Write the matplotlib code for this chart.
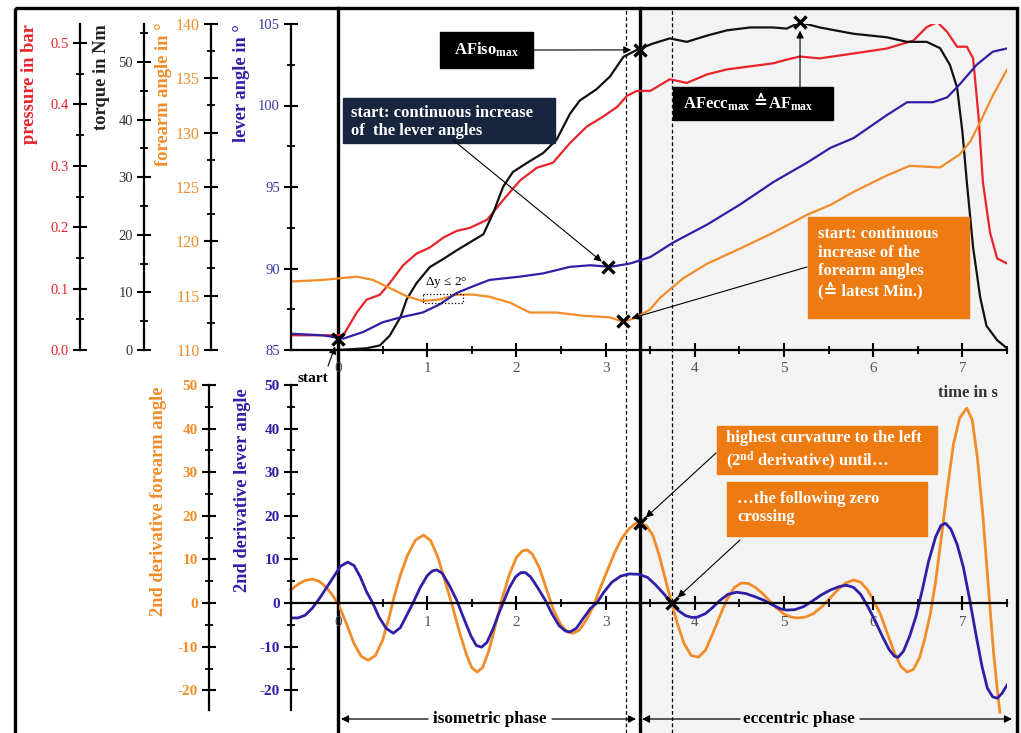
import matplotlib
matplotlib.use('Agg')
import matplotlib.pyplot as plt
import matplotlib.transforms as mtransforms
from matplotlib.lines import Line2D
from matplotlib.patches import Rectangle
from matplotlib.ticker import MultipleLocator, FixedLocator

plt.rcParams['font.family'] = ['Liberation Serif', 'DejaVu Serif', 'DejaVu Sans']
plt.rcParams['mathtext.fontset'] = 'custom'
plt.rcParams['mathtext.rm'] = 'Liberation Serif'
plt.rcParams['mathtext.bf'] = 'Liberation Serif:bold'
plt.rcParams['mathtext.it'] = 'Liberation Serif:italic'
plt.rcParams['axes.unicode_minus'] = False

# ---- data ----
t_torque = [0, 0.32, 0.47, 0.58, 0.7, 0.77, 0.88, 1.03, 1.18, 1.33, 1.48, 1.63, 1.74, 1.85,
            1.96, 2.12, 2.3, 2.45, 2.6, 2.71, 2.9, 3.05, 3.2, 3.35, 3.53, 3.72, 3.91, 4.14,
            4.36, 4.62, 4.88, 5.03, 5.18, 5.4, 5.78, 6.15, 6.38, 6.6, 6.75, 6.86, 6.94, 7.0,
            7.05, 7.12, 7.2, 7.27, 7.39, 7.5]
torque = [0, 0.3, 0.8, 2.5, 5.7, 8.8, 11.6, 14.4, 15.8, 17.3, 18.7, 20.1, 23.8, 28.3,
          30.9, 32.5, 34.2, 36.5, 41.0, 43.3, 45.3, 47.5, 50.9, 52.1, 53.2, 54.1, 53.5, 54.6,
          55.5, 56.0, 56.0, 55.8, 56.9, 56.0, 54.9, 54.3, 53.5, 53.5, 52.4, 49.5, 45.6, 37.9,
          29.1, 17.8, 9.1, 4.2, 1.7, 0.3]

t_pressure = [-0.53, -0.17, 0.06, 0.21, 0.32, 0.47, 0.58, 0.73, 0.88, 1.03, 1.18, 1.33, 1.48,
              1.67, 1.85, 2.04, 2.23, 2.41, 2.6, 2.79, 2.97, 3.13, 3.24, 3.35, 3.5, 3.72, 3.91,
              4.14, 4.36, 4.62, 4.88, 5.03, 5.18, 5.4, 5.78, 6.15, 6.45, 6.6, 6.72, 6.83,
              6.94, 7.05, 7.12, 7.18, 7.23, 7.31, 7.39, 7.5]
pressure = [0.024, 0.024, 0.024, 0.061, 0.082, 0.090, 0.109, 0.138, 0.157, 0.167, 0.183,
            0.194, 0.199, 0.212, 0.244, 0.276, 0.297, 0.305, 0.337, 0.364, 0.380, 0.396,
            0.414, 0.422, 0.422, 0.441, 0.435, 0.449, 0.457, 0.462, 0.467, 0.473, 0.478,
            0.475, 0.483, 0.491, 0.504, 0.526, 0.534, 0.518, 0.494, 0.494, 0.475, 0.382,
            0.273, 0.191, 0.149, 0.141]

t_forearm = [-0.53, -0.17, 0.21, 0.39, 0.58, 0.77, 0.95, 1.14, 1.33, 1.51, 1.7, 1.93, 2.15,
             2.45, 2.75, 3.05, 3.2, 3.35, 3.5, 3.61, 3.87, 4.14, 4.5, 4.88, 5.26, 5.52, 5.78,
             6.15, 6.41, 6.75, 6.97, 7.09, 7.2, 7.34, 7.5]
forearm = [116.3, 116.45, 116.75, 116.45, 115.7, 114.95, 114.5, 114.65, 115.1, 115.1, 114.9,
           114.35, 113.45, 113.45, 113.15, 113.0, 112.6, 113.0, 113.75, 114.8, 116.6, 117.95,
           119.3, 120.8, 122.45, 123.35, 124.55, 126.05, 126.95, 126.8, 128.0, 129.2, 131.0,
           133.4, 135.8]

t_lever = [-0.53, -0.17, 0.06, 0.28, 0.5, 0.7, 0.95, 1.14, 1.33, 1.51, 1.7, 2.04, 2.3, 2.6,
           2.83, 3.05, 3.27, 3.5, 3.76, 4.14, 4.5, 4.88, 5.26, 5.52, 5.78, 6.15, 6.38, 6.67,
           6.83, 6.97, 7.16, 7.34, 7.5]
lever = [86.0, 85.9, 85.7, 86.1, 86.7, 87.0, 87.3, 87.8, 88.5, 88.9, 89.3, 89.5, 89.7, 90.1,
         90.2, 90.1, 90.3, 90.7, 91.6, 92.7, 93.9, 95.3, 96.5, 97.4, 98.0, 99.4, 100.2, 100.2,
         100.5, 101.3, 102.5, 103.3, 103.5]

t_dforearm = [-0.53, -0.45, -0.37, -0.29, -0.21, -0.13, -0.05, 0.02, 0.1, 0.18, 0.26, 0.34,
              0.42, 0.5, 0.57, 0.63, 0.7, 0.78, 0.87, 0.96, 1.04, 1.12, 1.2, 1.28, 1.36,
              1.44, 1.5, 1.56, 1.62, 1.69, 1.76, 1.84, 1.92, 2.0, 2.07, 2.12, 2.18, 2.26,
              2.34, 2.42, 2.5, 2.57, 2.63, 2.7, 2.78, 2.86, 2.94, 3.02, 3.1, 3.18, 3.26,
              3.33, 3.39, 3.46, 3.53, 3.6, 3.67, 3.74, 3.81, 3.88, 3.96, 4.04, 4.12, 4.2,
              4.28, 4.36, 4.44, 4.52, 4.6, 4.68, 4.76, 4.84, 4.92, 5.0, 5.08, 5.15, 5.24,
              5.33, 5.42, 5.51, 5.6, 5.69, 5.78, 5.86, 5.93, 6.0, 6.08, 6.16, 6.24, 6.31,
              6.38, 6.45, 6.52, 6.58, 6.64, 6.7, 6.76, 6.83, 6.9, 6.97, 7.05, 7.11, 7.17,
              7.23, 7.29, 7.35, 7.39, 7.42]
dforearm = [3.0, 4.3, 5.2, 5.5, 5.0, 3.6, 1.5, -1.0, -5.0, -9.3, -12.2, -13.1,
            -12.0, -8.5, -3.5, 1.5, 6.5, 11.0, 14.5, 15.6, 14.3, 10.5, 5.0, -0.5, -6.5,
            -11.8, -14.8, -15.8, -14.8, -11.0, -5.5, 1.0, 6.5, 10.5, 12.0, 12.2, 11.2, 8.0,
            3.0, -1.8, -5.0, -6.6, -6.9, -6.3, -4.0, -0.8, 3.5, 7.5, 11.5, 14.8, 17.0,
            18.2, 18.3, 17.7, 15.5, 11.0, 5.5, 0, -5.0, -9.3, -12.0, -12.4, -10.8, -7.0,
            -3.0, 0.8, 3.5, 4.6, 4.5, 3.6, 2.2, 0.5, -1.2, -2.5, -3.2, -3.4, -3.2,
            -2.4, -0.9, 1.0, 3.0, 4.6, 5.3, 4.8, 3.2, 0.8, -2.5, -7.0, -11.5, -14.5,
            -15.8, -15.2, -12.5, -8.0, -2.5, 5.0, 14.5, 26.0, 36.5, 42.5, 44.7, 42.0, 33.0,
            20.0, 4.0, -11.5, -19.5, -25.0]

t_dlever = [-0.53, -0.45, -0.37, -0.29, -0.21, -0.13, -0.05, 0.03, 0.11, 0.18, 0.25, 0.32,
            0.39, 0.46, 0.54, 0.62, 0.7, 0.77, 0.84, 0.92, 1.0, 1.06, 1.11, 1.17, 1.25,
            1.33, 1.41, 1.49, 1.55, 1.61, 1.67, 1.74, 1.8, 1.85, 1.92, 1.99, 2.05, 2.1,
            2.16, 2.24, 2.32, 2.4, 2.48, 2.55, 2.6, 2.67, 2.75, 2.83, 2.9, 2.98, 3.07,
            3.17, 3.27, 3.37, 3.47, 3.56, 3.65, 3.74, 3.82, 3.9, 3.97, 4.03, 4.12, 4.2,
            4.28, 4.37, 4.47, 4.57, 4.67, 4.77, 4.87, 4.96, 5.03, 5.12, 5.22, 5.32, 5.42,
            5.52, 5.62, 5.7, 5.78, 5.86, 5.94, 6.02, 6.1, 6.18, 6.24, 6.28, 6.34, 6.41,
            6.48, 6.55, 6.62, 6.7, 6.76, 6.81, 6.87, 6.94, 7.01, 7.08, 7.15, 7.22, 7.28,
            7.34, 7.39, 7.44, 7.5]
dlever = [-3.4, -3.4, -2.8, -1.2, 1.0, 3.5, 6.0, 8.5, 9.4, 8.6, 6.0, 2.6,
          0, -3.2, -5.8, -6.9, -5.6, -2.8, 0, 3.5, 6.3, 7.4, 7.6, 6.8, 4.0,
          0.7, -3.5, -7.5, -9.7, -10.1, -9.0, -5.8, -2.5, 0, 3.5, 6.0, 7.0, 7.0,
          6.0, 3.5, 0.8, -2.5, -5.2, -6.4, -6.6, -5.8, -3.5, -1.2, 0, 2.5, 4.8,
          6.2, 6.7, 6.6, 5.9, 4.2, 2.2, 0, -1.8, -2.9, -3.3, -3.2, -2.4, -1.0,
          0.6, 2.0, 2.5, 2.2, 1.5, 0.7, -0.4, -1.3, -1.6, -1.5, -0.8, 0.5, 1.9,
          3.0, 3.8, 4.1, 3.6, 2.0, -0.8, -4.0, -7.5, -10.7, -12.2, -12.4, -11.0, -7.5,
          -3.0, 3.0, 9.5, 15.2, 17.8, 18.3, 17.0, 13.5, 8.3, 1.0, -7.0, -14.5, -19.5,
          -21.5, -21.8, -20.8, -18.8]

# marked points
mk_lever_t, mk_lever_y = [0, 3.03], [85.7, 90.1]
mk_forearm_t, mk_forearm_y = [3.2], [112.7]
mk_torque_t, mk_torque_y = [3.38, 5.18], [52.1, 56.9]
mk_deriv_t, mk_deriv_y = [3.38, 3.74], [18.3, 0]

t_start, t_iso_end = 0, 3.38
t_dashed = [3.23, 3.74]

RED = '#e8242a'
BLACK = '#111111'
ORANGE = '#f28c28'
BLUE = '#2e1fa6'
BOX_OR = '#ee7a12'

W, H = 1021, 733
fig = plt.figure(figsize=(W / 100, H / 100), dpi=100)
XMIN, XMAX = -0.527, 7.5


def rect(x0, y0, x1, y1):
    return [x0 / W, 1 - y1 / H, (x1 - x0) / W, (y1 - y0) / H]


def yax(ax, pos, lab_color, step, minor, ylim, weight='normal', size=10.5):
    for s in ['top', 'right', 'bottom']:
        ax.spines[s].set_visible(False)
    ax.spines['left'].set_position(('axes', pos))
    ax.spines['left'].set_linewidth(1.6)
    ax.set_ylim(*ylim)
    ax.set_xlim(XMIN, XMAX)
    ax.set_facecolor('none')
    ax.yaxis.set_major_locator(MultipleLocator(step))
    ax.yaxis.set_minor_locator(MultipleLocator(minor))
    ax.tick_params(axis='y', which='major', direction='inout', length=10, width=1.5,
                   pad=3, labelcolor=lab_color, labelsize=size)
    ax.tick_params(axis='y', which='minor', direction='inout', length=6, width=1.3)
    ax.set_xticks([])
    for lbl in ax.get_yticklabels():
        lbl.set_fontweight(weight)


def xax(ax):
    ax.spines['bottom'].set_linewidth(1.6)
    ax.xaxis.set_major_locator(FixedLocator(range(0, 8)))
    ax.xaxis.set_minor_locator(FixedLocator([i + 0.5 for i in range(8)]))
    ax.tick_params(axis='x', which='major', direction='inout', length=10, width=1.5,
                   pad=4, labelcolor='#555555', labelsize=11)
    ax.tick_params(axis='x', which='minor', direction='inout', length=6, width=1.3)


top_r = rect(291, 24, 1007, 350)
bot_r = rect(291, 385, 1007, 710)

ax_pr = fig.add_axes(top_r, label='pressure')
ax_tq = fig.add_axes(top_r, label='torque')
ax_fa = fig.add_axes(top_r, label='forearm')
ax_lv = fig.add_axes(top_r, label='lever')
ax_dfa = fig.add_axes(bot_r, label='dforearm')
ax_dlv = fig.add_axes(bot_r, label='dlever')

yax(ax_pr, -211 / 716, RED, 0.1, 0.05, (0, 0.531))
yax(ax_tq, -147 / 716, '#333333', 10, 5, (0, 56.6))
yax(ax_fa, -80 / 716, ORANGE, 5, 2.5, (110, 140), size=11.5)
yax(ax_lv, 0, '#3a3aa0', 5, 2.5, (85, 105))
ax_lv.spines['bottom'].set_visible(True)
xax(ax_lv)

yax(ax_dfa, -82 / 716, ORANGE, 10, 5, (-24.5, 50), weight='bold', size=11)
yax(ax_dlv, 0, BLUE, 10, 5, (-24.5, 50), weight='bold', size=11)
ax_dlv.spines['bottom'].set_visible(True)
ax_dlv.spines['bottom'].set_position(('data', 0))
xax(ax_dlv)

ax_pr.plot(t_pressure, pressure, color=RED, lw=1.6)
ax_tq.plot(t_torque, torque, color=BLACK, lw=1.6)
ax_lv.plot(t_lever, lever, color=BLUE, lw=1.6)
ax_fa.plot(t_forearm, forearm, color=ORANGE, lw=1.6)
ax_dfa.plot(t_dforearm, dforearm, color=ORANGE, lw=2.0, clip_on=False)
ax_dlv.plot(t_dlever, dlever, color=BLUE, lw=2.0)

mk = dict(ls='none', marker='x', color='k', ms=9, mew=2.4, clip_on=False, zorder=5)
ax_lv.plot(mk_lever_t, mk_lever_y, **mk)
ax_fa.plot(mk_forearm_t, mk_forearm_y, **mk)
ax_tq.plot(mk_torque_t, mk_torque_y, **mk)
ax_dlv.plot(mk_deriv_t, mk_deriv_y, **mk)

# background for the eccentric part + vertical markers
vt = mtransforms.blended_transform_factory(ax_lv.transData, fig.transFigure)
fig.add_artist(Rectangle((t_iso_end, 0), 10, 1 - 8 / H, transform=vt, color='#f3f3f3',
                         zorder=-1))
for x in [t_start, t_iso_end]:
    fig.add_artist(Line2D([x, x], [0, 1 - 8 / H], transform=vt, color='k', lw=2.4,
                          zorder=-0.5))
for x in t_dashed:
    fig.add_artist(Line2D([x, x], [0, 1 - 8 / H], transform=vt, color='k', lw=0.9,
                          ls=(0, (3, 2)), zorder=-0.5))

# ---- overlay in pixel coordinates ----
ov = fig.add_axes([0, 0, 1, 1], zorder=10)
ov.set_xlim(0, W)
ov.set_ylim(H, 0)
ov.axis('off')
ov.add_patch(Rectangle((15, 8), 1002, 760, fill=False, ec='k', lw=2.4, clip_on=False))

lab = dict(rotation=90, ha='center', va='top', fontsize=13.3, fontweight='bold')
ov.text(30, 24, 'pressure in bar', color=RED, **lab)
ov.text(101, 24, 'torque in Nm', color='#222222', **lab)
ov.text(163, 22, 'forearm angle in °', color=ORANGE, **lab)
ov.text(241, 24, 'lever angle in °', color=BLUE, **lab)
ov.text(158, 387, '2nd derivative forearm angle', color=ORANGE, **lab)
ov.text(242, 388, '2nd derivative lever angle', color=BLUE, **lab)
ov.text(968, 393, 'time in s', ha='center', va='center', fontsize=12, fontweight='bold',
        color='#333333')

ov.text(313, 379, 'start', ha='center', va='center', fontsize=11, fontweight='bold')
arr = dict(arrowstyle='-|>', color='k', lw=0.8, shrinkA=0, shrinkB=6, mutation_scale=11)
ov.annotate('', xy=(0, 85.7), xycoords=ax_lv.transData, xytext=(328, 366),
            textcoords='data', arrowprops=arr)

ov.text(446, 283, r'$\Delta$y ≤ 2°', ha='center', va='center', fontsize=9.5)
ov.add_patch(Rectangle((423, 294), 40, 9, fill=False, ec='k', lw=0.9, ls=':'))

txt = dict(color='white', fontsize=12, fontweight='bold')
# AFiso box
ov.add_patch(Rectangle((440, 32), 93, 36, color='black'))
ov.text(486, 50, r'AFiso$_{\mathbf{max}}$', ha='center', va='center', **txt)
ov.annotate('', xy=(3.38, 52.1), xycoords=ax_tq.transData, xytext=(533, 50),
            textcoords='data', arrowprops=arr)

# lever box
ov.add_patch(Rectangle((343, 98), 212, 45, color='#18253f'))
ov.text(351, 122, 'start: continuous increase\nof  the lever angles', ha='left',
        va='center', linespacing=1.2, **txt)
ov.annotate('', xy=(3.03, 90.1), xycoords=ax_lv.transData, xytext=(453, 140),
            textcoords='data', arrowprops=arr)

# AFecc box
ov.add_patch(Rectangle((673, 87), 160, 33, color='black'))
ov.text(751, 104, r'AFecc$_{\mathbf{max}}$', ha='right', va='center', **txt)
ov.text(760, 102, '≙', ha='center', va='center', color='white', fontsize=12,
        fontweight='bold', family=['DejaVu Sans'])
ov.text(768, 104, r'AF$_{\mathbf{max}}$', ha='left', va='center', **txt)
ov.annotate('', xy=(5.18, 56.9), xycoords=ax_tq.transData, xytext=(800, 87),
            textcoords='data', arrowprops=arr)

# forearm box
ov.add_patch(Rectangle((808, 217), 161, 101, color=BOX_OR))
ov.text(818, 263, 'start: continuous\nincrease of the\nforearm angles\n(≙ latest Min.)',
        ha='left', va='center', linespacing=1.2, **txt)
ov.annotate('', xy=(3.2, 112.7), xycoords=ax_fa.transData, xytext=(807, 267),
            textcoords='data', arrowprops=arr)

# curvature boxes
ov.add_patch(Rectangle((717, 426), 220, 48, color=BOX_OR))
ov.text(726, 451, 'highest curvature to the left\n(2$^{\\mathbf{nd}}$ derivative) until…',
        ha='left', va='center', linespacing=1.2, **txt)
ov.annotate('', xy=(3.38, 18.3), xycoords=ax_dlv.transData, xytext=(716, 453),
            textcoords='data', arrowprops=arr)

ov.add_patch(Rectangle((727, 482), 200, 54, color=BOX_OR))
ov.text(737, 508, '…the following zero\ncrossing', ha='left', va='center',
        linespacing=1.2, **txt)
ov.annotate('', xy=(3.74, 0), xycoords=ax_dlv.transData, xytext=(740, 540),
            textcoords='data', arrowprops=arr)

# phase arrows
ph = dict(arrowstyle='-|>', color='k', lw=0.9, shrinkA=0, shrinkB=0, mutation_scale=11)
ov.text(490, 719, 'isometric phase', ha='center', va='center', fontsize=12.3, fontweight='bold')
ov.annotate('', xy=(341, 719), xytext=(428, 719), arrowprops=ph)
ov.annotate('', xy=(636, 719), xytext=(552, 719), arrowprops=ph)
ov.text(799, 719, 'eccentric phase', ha='center', va='center', fontsize=12.3, fontweight='bold')
ov.annotate('', xy=(642, 719), xytext=(740, 719), arrowprops=ph)
ov.annotate('', xy=(1012, 719), xytext=(860, 719), arrowprops=ph)

fig.savefig('out.png', dpi=100)
